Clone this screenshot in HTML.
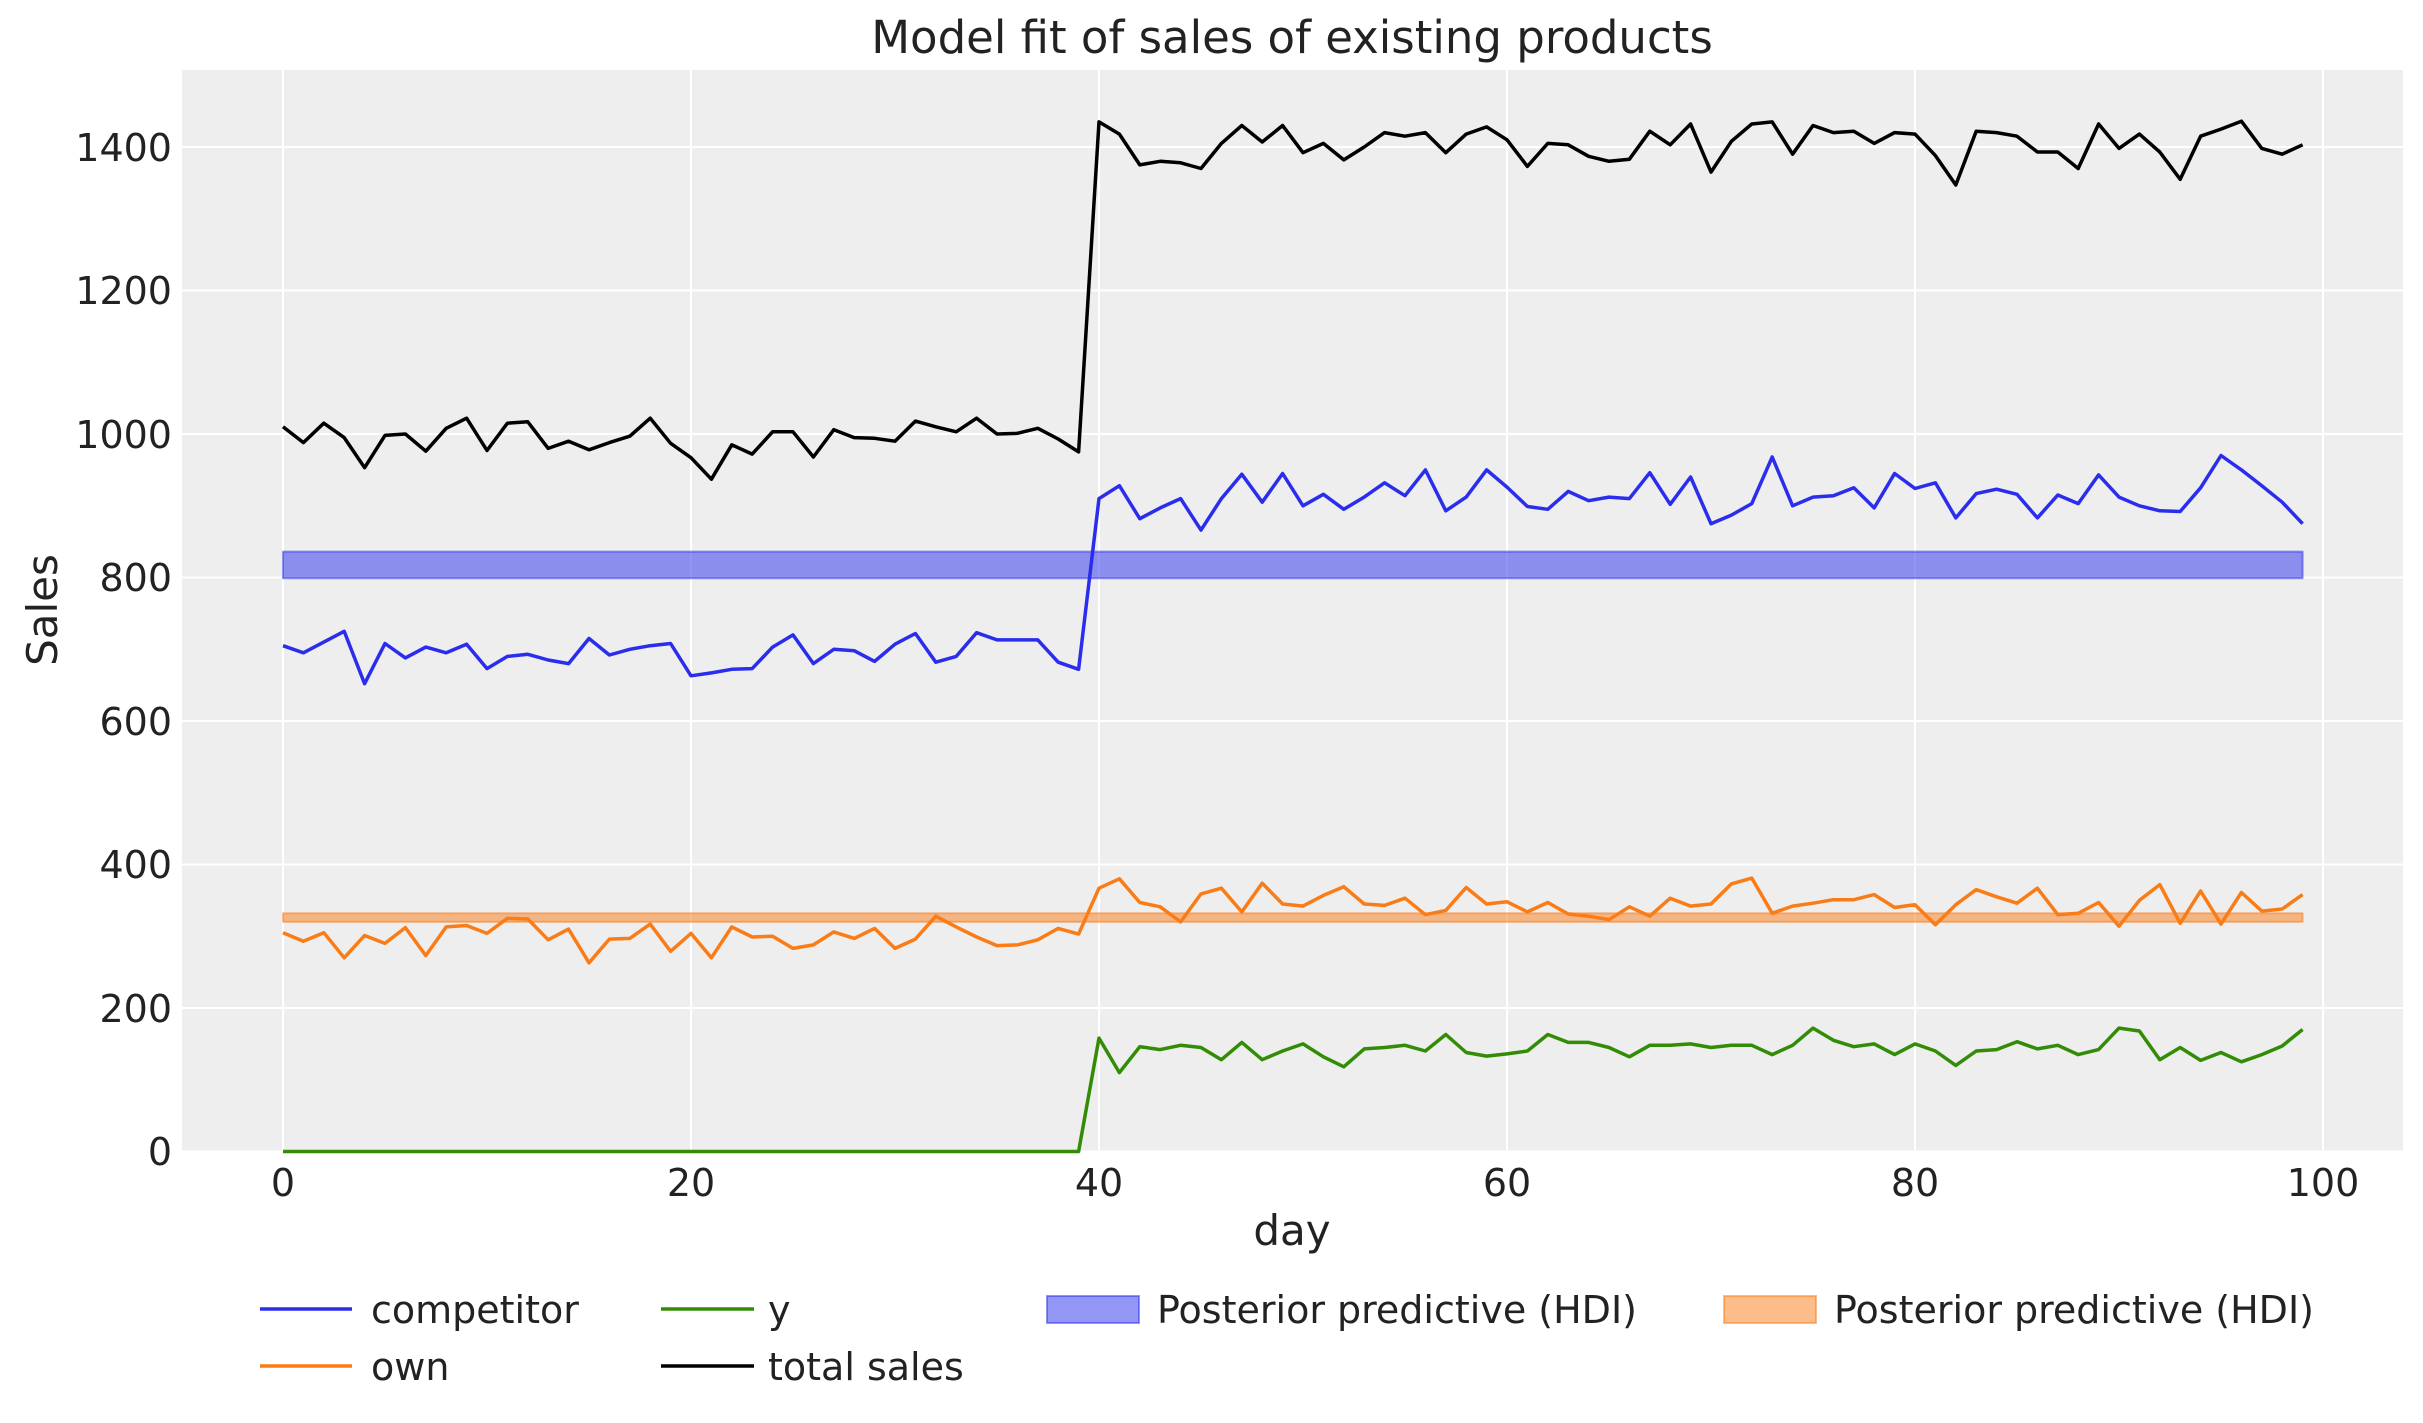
<!DOCTYPE html>
<html><head><meta charset="utf-8"><style>
html,body{margin:0;padding:0;background:#fff;}
svg{display:block;font-family:"DejaVu Sans","Liberation Sans",sans-serif;}
</style></head><body>
<svg id="s" width="2423" height="1423" viewBox="0 0 2423 1423" xmlns="http://www.w3.org/2000/svg">
<rect x="0" y="0" width="2423" height="1423" fill="#fff"/>
<rect x="182" y="70" width="2221" height="1081.5" fill="#eeeeee"/>
<g stroke="#fff" stroke-width="2">
<line x1="283" y1="70" x2="283" y2="1151.5"/>
<line x1="691" y1="70" x2="691" y2="1151.5"/>
<line x1="1099" y1="70" x2="1099" y2="1151.5"/>
<line x1="1507" y1="70" x2="1507" y2="1151.5"/>
<line x1="1915" y1="70" x2="1915" y2="1151.5"/>
<line x1="2323" y1="70" x2="2323" y2="1151.5"/>
<line x1="182" y1="1151.5" x2="2403" y2="1151.5"/>
<line x1="182" y1="1008" x2="2403" y2="1008"/>
<line x1="182" y1="864.5" x2="2403" y2="864.5"/>
<line x1="182" y1="721" x2="2403" y2="721"/>
<line x1="182" y1="577.5" x2="2403" y2="577.5"/>
<line x1="182" y1="434" x2="2403" y2="434"/>
<line x1="182" y1="290.5" x2="2403" y2="290.5"/>
<line x1="182" y1="147" x2="2403" y2="147"/>
</g>
<g id="series" fill="none" stroke-width="3.5" stroke-linejoin="round"></g>
<g font-size="38" fill="#222" text-anchor="end">
<text x="172" y="1165">0</text>
<text x="172" y="1022">200</text>
<text x="172" y="878">400</text>
<text x="172" y="735">600</text>
<text x="172" y="591">800</text>
<text x="172" y="448">1000</text>
<text x="172" y="304">1200</text>
<text x="172" y="161">1400</text>
</g>
<g font-size="38" fill="#222" text-anchor="middle">
<text x="283" y="1196">0</text>
<text x="691" y="1196">20</text>
<text x="1099" y="1196">40</text>
<text x="1507" y="1196">60</text>
<text x="1915" y="1196">80</text>
<text x="2323" y="1196">100</text>
<text x="1292" y="1245" font-size="42">day</text>
<text x="1292" y="53" font-size="45">Model fit of sales of existing products</text>
<text transform="translate(57,610) rotate(-90)" font-size="42">Sales</text>
</g>
<g font-size="38" fill="#222">
<line x1="260" y1="1309" x2="352" y2="1309" stroke="#2a2eec" stroke-width="3.5"/>
<text x="371" y="1323">competitor</text>
<line x1="260" y1="1366" x2="352" y2="1366" stroke="#fa7c17" stroke-width="3.5"/>
<text x="371" y="1380">own</text>
<line x1="661" y1="1309" x2="754" y2="1309" stroke="#328c06" stroke-width="3.5"/>
<text x="768" y="1323">y</text>
<line x1="661" y1="1366" x2="754" y2="1366" stroke="#000" stroke-width="3.5"/>
<text x="768" y="1380">total sales</text>
<rect x="1047" y="1296" width="92" height="27" fill="#2a2eec" fill-opacity="0.5" stroke="#2a2eec" stroke-opacity="0.5" stroke-width="2"/>
<text x="1157" y="1323">Posterior predictive (HDI)</text>
<rect x="1724" y="1296" width="92" height="27" fill="#fa7c17" fill-opacity="0.5" stroke="#fa7c17" stroke-opacity="0.5" stroke-width="2"/>
<text x="1834" y="1323">Posterior predictive (HDI)</text>
</g>
</svg>
<script>
var tot=[1010,988,1015,995,953,998,1000,976,1008,1022,977,1015,1017,980,990,978,988,997,1022,987,967,937,985,972,1003,1003,968,1006,995,994,990,1018,1010,1003,1022,1000,1001,1008,993,975,
1435,1418,1375,1380,1378,1370,1405,1430,1407,1430,1392,1405,1382,1400,1420,1415,1420,1392,1418,1428,1410,1373,1405,1403,1387,1380,1383,1422,1403,1432,1365,1408,1432,1435,1390,1430,1420,1422,1405,1420,1418,1388,1347,1422,1420,1415,1393,1393,1370,1432,1398,1418,1393,1355,1415,1425,1436,1398,1390,1403];
var comp=[705,695,710,725,652,708,688,703,695,707,673,690,693,685,680,715,692,700,705,708,663,667,672,673,703,720,680,700,698,683,707,722,682,690,723,713,713,713,682,672,
910,928,882,897,910,866,910,944,905,945,900,916,895,912,932,914,950,893,912,950,926,899,895,920,907,912,910,946,902,940,875,887,903,968,900,912,914,925,897,945,924,932,883,917,923,916,883,915,903,943,912,900,893,892,925,970,950,928,905,875];
var yy=[];for(var i=0;i<40;i++)yy.push(0);
yy=yy.concat([158,110,146,142,148,145,128,152,128,140,150,132,118,143,145,148,140,163,138,133,136,140,163,152,152,145,132,148,148,150,145,148,148,135,148,172,155,146,150,135,150,140,120,140,142,153,143,148,135,142,172,168,128,145,127,138,125,135,147,170]);
var own=tot.map(function(t,i){return t-comp[i]-yy[i];});
function X(d){return 283+20.4*d;}function Y(v){return 1151.5-0.7175*v;}
function pts(a){return a.map(function(v,i){return X(i).toFixed(1)+","+Y(v).toFixed(1);}).join(" ");}
var g=document.getElementById("series"),ns="http://www.w3.org/2000/svg";
function pl(a,c){var p=document.createElementNS(ns,"polyline");p.setAttribute("points",pts(a));p.setAttribute("stroke",c);g.appendChild(p);}
pl(comp,"#2a2eec");pl(own,"#fa7c17");pl(yy,"#328c06");pl(tot,"#000");
function band(lo,hi,c){var r=document.createElementNS(ns,"rect");r.setAttribute("x",X(0));r.setAttribute("width",X(99)-X(0));r.setAttribute("y",Y(hi));r.setAttribute("height",Y(lo)-Y(hi));r.setAttribute("fill",c);r.setAttribute("fill-opacity","0.5");r.setAttribute("stroke",c);r.setAttribute("stroke-opacity","0.5");r.setAttribute("stroke-width","2");g.appendChild(r);}
band(799,836,"#2a2eec");band(320,332,"#fa7c17");
</script>
</body></html>
